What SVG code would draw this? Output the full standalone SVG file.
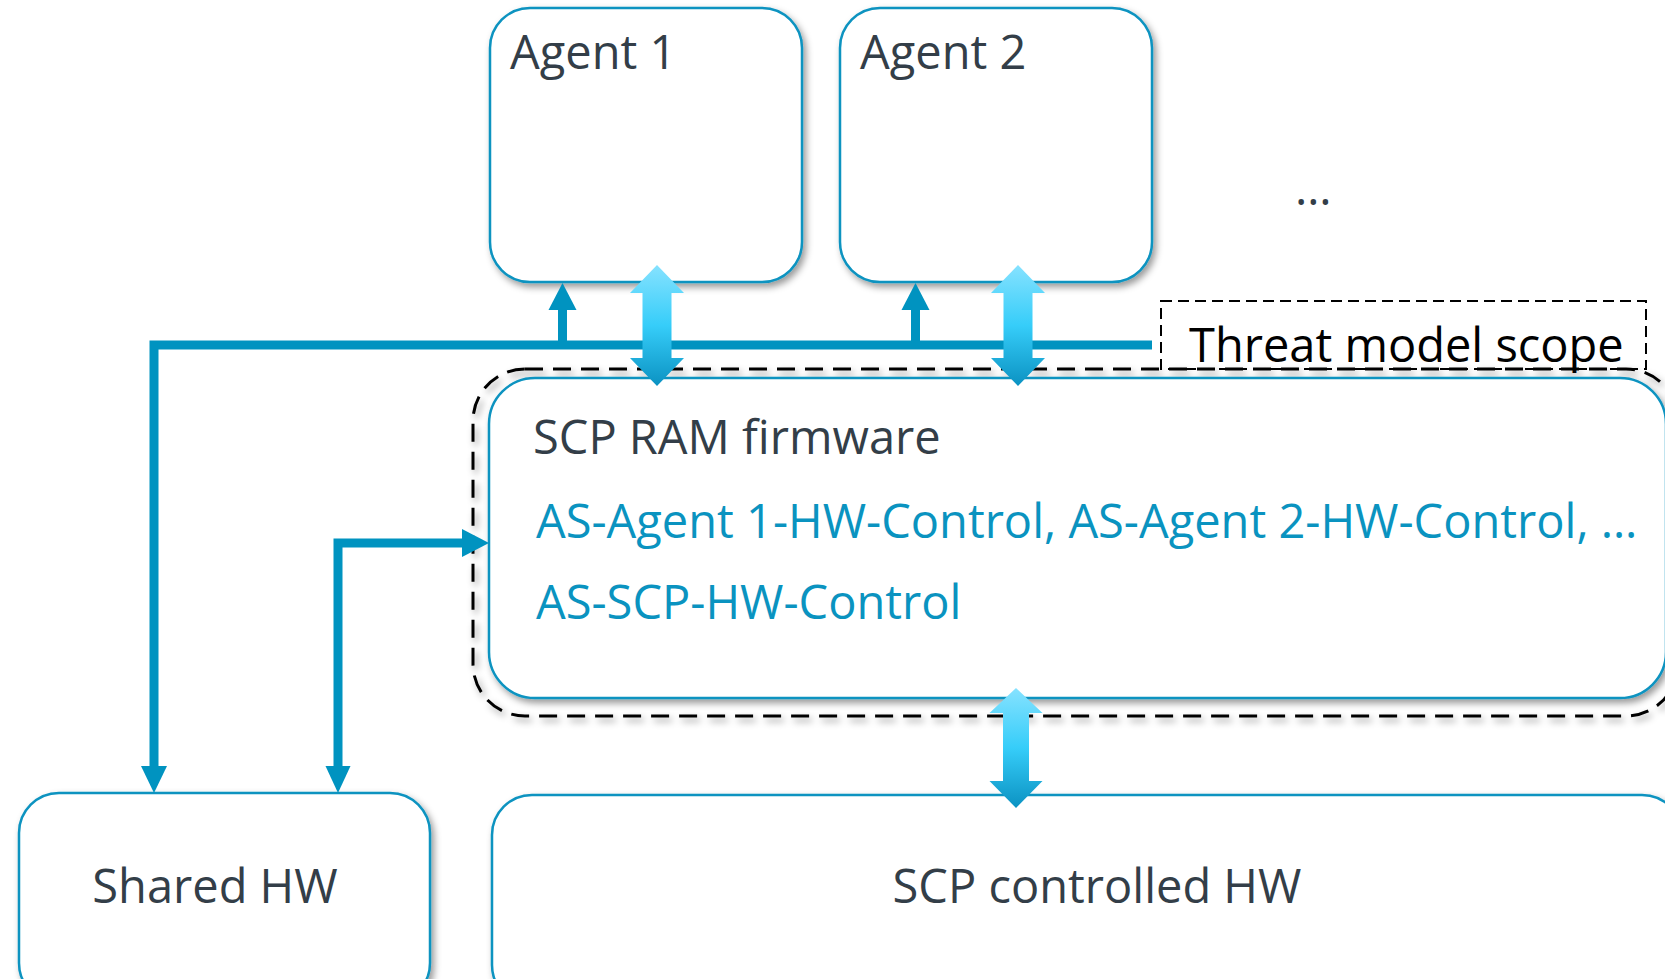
<svg xmlns="http://www.w3.org/2000/svg" width="1665" height="979" viewBox="0 0 1665 979">
  <defs>
    <filter id="shadow" x="-10%" y="-10%" width="120%" height="130%">
      <feDropShadow dx="3" dy="4" stdDeviation="3.5" flood-color="#000" flood-opacity="0.4"/>
    </filter>
    <linearGradient id="grad" x1="0" y1="0" x2="0" y2="1">
      <stop offset="0" stop-color="#86e2ff"/>
      <stop offset="0.5" stop-color="#36cdf9"/>
      <stop offset="1" stop-color="#0b92c2"/>
    </linearGradient>
    <style>
      .box { fill: #ffffff; stroke: #0b93c0; stroke-width: 2.5; filter: url(#shadow); }
      .scope { fill: none; stroke: #000000; stroke-width: 3; stroke-dasharray: 18 10; filter: url(#shadow); }
      .scopebox { fill: none; stroke: #000000; stroke-width: 2; stroke-dasharray: 11 6; }
      .label { font-family: "Open Sans", "DejaVu Sans", sans-serif; font-size: 47px; fill: #333e48; }
      .blue { fill: #0a93c0; }
      .black { fill: #000000; }
      .line { fill: none; stroke: #0093c0; stroke-width: 9; stroke-linejoin: miter; }
      .head { fill: #0093c0; }
      .dbl { fill: url(#grad); }
    </style>
  </defs>

  <g id="scope-outline">
    <rect class="scope" x="473" y="369" width="1205" height="347" rx="52"/>
  </g>

  <g id="agent1">
    <rect class="box" x="490" y="8" width="312" height="274" rx="40"/>
    <text class="label" x="510" y="69">Agent 1</text>
  </g>

  <g id="agent2">
    <rect class="box" x="840" y="8" width="312" height="274" rx="40"/>
    <text class="label" x="860" y="69">Agent 2</text>
  </g>

  <g id="more-agents">
    <text class="label" x="1295" y="205">…</text>
  </g>

  <g id="scp-ram-firmware">
    <rect class="box" x="489" y="378" width="1177" height="320" rx="46"/>
    <text class="label" x="533" y="454">SCP RAM firmware</text>
    <text class="label blue" x="536" y="538">AS-Agent 1-HW-Control, AS-Agent 2-HW-Control, …</text>
    <text class="label blue" x="536" y="619">AS-SCP-HW-Control</text>
  </g>

  <g id="threat-model-scope">
    <rect class="scopebox" x="1161" y="301" width="485" height="68"/>
    <text class="label black" x="1189" y="362">Threat model scope</text>
  </g>

  <g id="shared-hw">
    <rect class="box" x="19" y="793" width="411" height="210" rx="40"/>
    <text class="label" x="215" y="903" text-anchor="middle">Shared HW</text>
  </g>

  <g id="scp-controlled-hw">
    <rect class="box" x="492" y="795" width="1190" height="210" rx="40"/>
    <text class="label" x="1097" y="903" text-anchor="middle">SCP controlled HW</text>
  </g>

  <g id="connectors">
    <!-- shared bus to agents and Shared HW -->
    <polyline class="line" points="1152,345 154,345 154,768"/>
    <polygon class="head" points="141,766 167,766 154,793"/>
    <line class="line" x1="562.5" y1="345" x2="562.5" y2="308"/>
    <polygon class="head" points="548.5,310 576.5,310 562.5,283"/>
    <line class="line" x1="915.5" y1="345" x2="915.5" y2="308"/>
    <polygon class="head" points="901.5,310 929.5,310 915.5,283"/>
    <!-- Shared HW <-> SCP RAM firmware -->
    <polyline class="line" points="338,768 338,543 464,543"/>
    <polygon class="head" points="325.5,766 350.5,766 338,793"/>
    <polygon class="head" points="462,529 462,557 489,543"/>
    <!-- double arrows -->
    <polygon class="dbl" points="657,265 684,293 671.5,293 671.5,358 684,358 657,386 630,358 642.5,358 642.5,293 630,293"/>
    <polygon class="dbl" points="1018,265 1045,293 1032.5,293 1032.5,358 1045,358 1018,386 991,358 1003.5,358 1003.5,293 991,293"/>
    <polygon class="dbl" points="1016,688 1042.5,713 1029,713 1029,781 1042.5,781 1016,808 989.5,781 1003,781 1003,713 989.5,713"/>
  </g>
</svg>
